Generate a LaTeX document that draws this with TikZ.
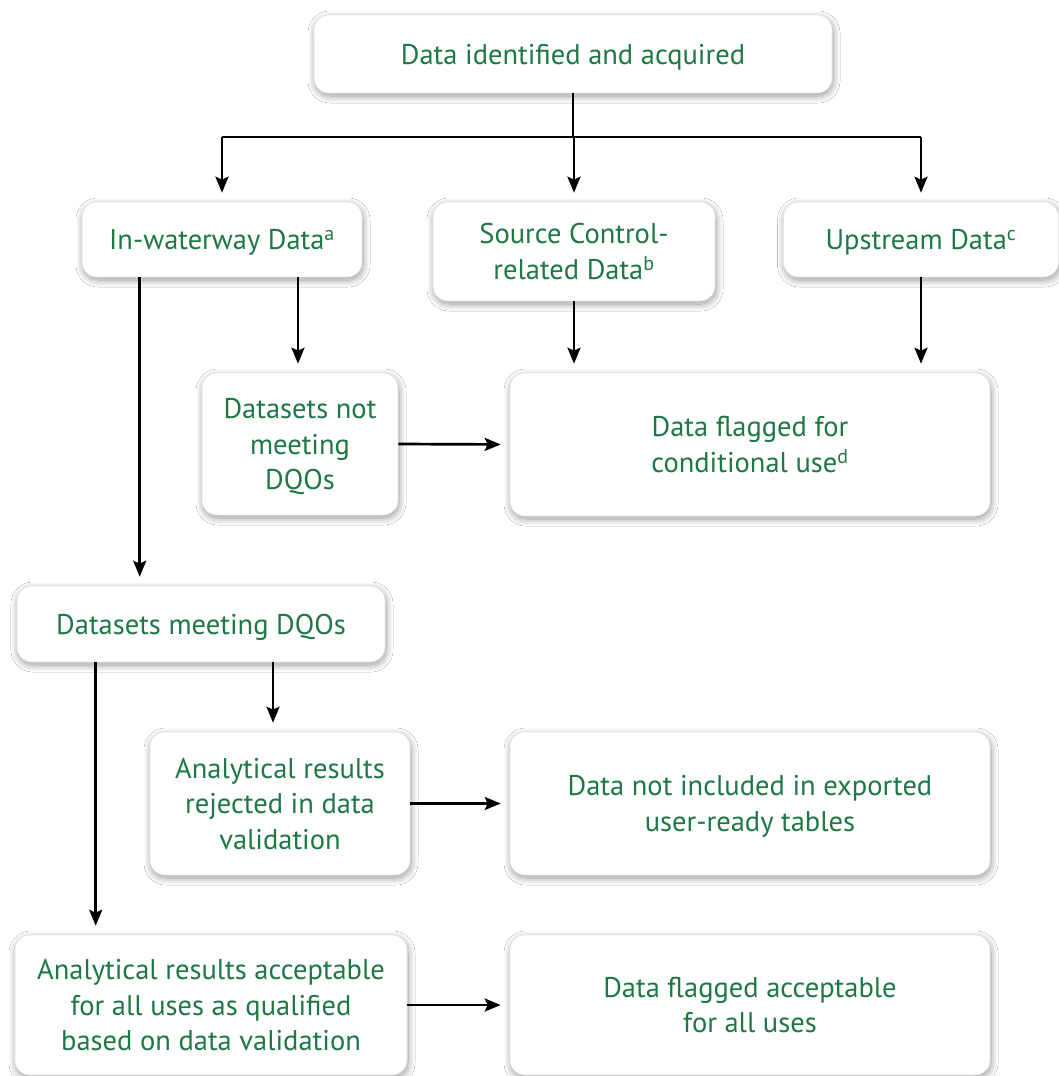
\documentclass[tikz,border=0pt]{standalone}
\usepackage{fontspec}
\setmainfont{PT Sans}
\usetikzlibrary{arrows.meta,shadows.blur,calc}
\definecolor{txtgreen}{RGB}{30,120,68}
\tikzset{
  box/.style={rounded corners=15pt, fill=white, draw=black!10, line width=0.6pt,
    blur shadow={shadow xshift=1pt, shadow yshift=-3pt, shadow blur radius=7pt, shadow opacity=40, shadow blur steps=14},
    text=txtgreen, align=center, inner sep=0pt, text depth=0pt,
    font=\fontsize{28.5}{35.5}\selectfont},
  conn/.style={line width=2.7pt, black},
  arr/.style={conn, -{Stealth[length=16pt,width=13pt,inset=3pt]}, shorten >=9pt},
}
\begin{document}
\begin{tikzpicture}[x=1pt,y=-1pt]
\useasboundingbox (0,0) rectangle (1059,1076);
\fill[white] (0,0) rectangle (1059,1076);
% nodes
\node[box, minimum width=518pt, minimum height=78pt] (top) at (573,54) {Data identified and acquired};
\node[box, minimum width=280pt, minimum height=75pt] (inw) at (222,239.5) {In-waterway Data\textsuperscript{a}};
\node[box, minimum width=282pt, minimum height=99pt] (src) at (574,251.5) {Source Control-\\related Data\textsuperscript{b}};
\node[box, minimum width=275pt, minimum height=75pt] (up) at (921,239.5) {Upstream Data\textsuperscript{c}};
\node[box, minimum width=196pt, minimum height=142pt] (notmeet) at (300,444) {Datasets not\\meeting\\DQOs};
\node[box, minimum width=480pt, minimum height=143pt] (cond) at (750,444.5) {Data flagged for\\conditional use\textsuperscript{d}};
\node[box, minimum width=368pt, minimum height=76pt] (meet) at (201,624) {Datasets meeting DQOs};
\node[box, minimum width=260pt, minimum height=143pt] (rej) at (280,803.5) {Analytical results\\rejected in data\\validation};
\node[box, minimum width=480pt, minimum height=143pt] (notinc) at (750,803.5) {Data not included in exported\\user-ready tables};
\node[box, minimum width=392pt, minimum height=140pt] (acc) at (211,1005) {Analytical results acceptable\\for all uses as qualified\\based on data validation};
\node[box, minimum width=480pt, minimum height=140pt] (flagacc) at (750,1005) {Data flagged acceptable\\for all uses};
% junction
\coordinate (j) at (573,137);
\draw[conn] (top.south) -- (j);
\draw[conn] (inw.north |- j) -- (up.north |- j);
\draw[arr] (inw.north |- j) -- (inw.north);
\draw[arr] (src.north |- j) -- (src.north);
\draw[arr] (up.north |- j) -- (up.north);
% second level
\draw[arr] ([xshift=58pt]inw.south west) -- ([xshift=58pt]inw.south west |- meet.north);
\draw[arr] ([xshift=-2pt]notmeet.north |- inw.south) -- ([xshift=-2pt]notmeet.north);
\draw[arr] (src.south) -- (src.south |- cond.north);
\draw[arr] (up.south) -- (up.south |- cond.north);
\draw[arr] (notmeet.east) -- (cond.west);
% lower
\draw[arr] ([xshift=-7pt]rej.north |- meet.south) -- ([xshift=-7pt]rej.north);
\draw[arr] ([xshift=81pt]acc.north west |- meet.south) -- ([xshift=81pt]acc.north west);
\draw[arr] (rej.east) -- (notinc.west);
\draw[arr] (acc.east) -- (flagacc.west);
\end{tikzpicture}
\end{document}
